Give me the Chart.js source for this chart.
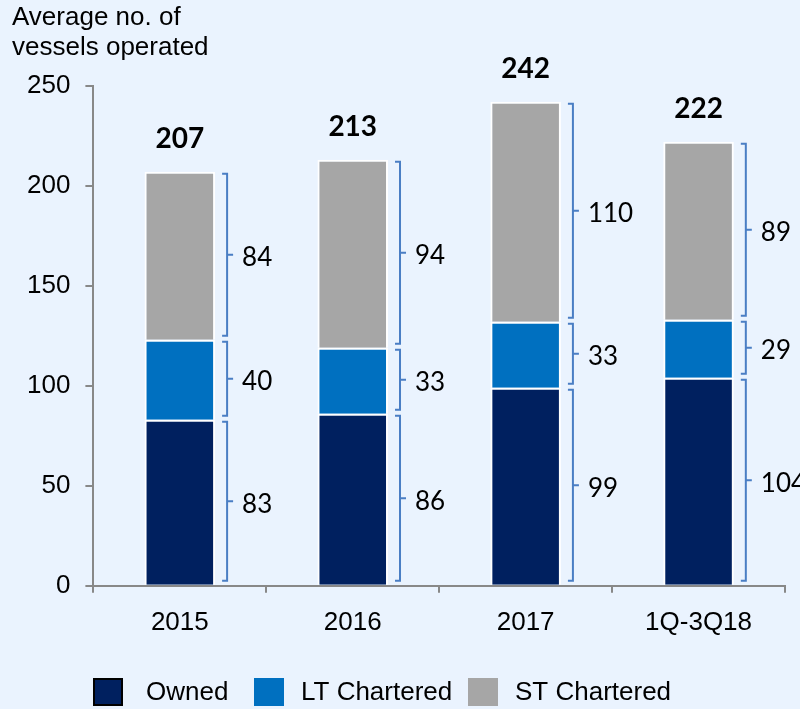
<!DOCTYPE html>
<html>
<head>
<meta charset="utf-8">
<script src="https://cdn.jsdelivr.net/npm/chart.js@4.4.1/dist/chart.umd.min.js"></script>
<style>
  html, body { margin: 0; padding: 0; background: #EAF3FE; }
  #wrap { width: 800px; height: 709px; position: relative; }
</style>
</head>
<body>
<div id="wrap"><canvas id="c" width="800" height="709"></canvas></div>
<script>
const categories = ['2015', '2016', '2017', '1Q-3Q18'];
const owned = [83, 86, 99, 104];
const ltChartered = [40, 33, 33, 29];
const stChartered = [84, 94, 110, 89];
const totals = [207, 213, 242, 222];
const yTicks = [0, 50, 100, 150, 200, 250];

const FONT = '"Liberation Sans", Arial, sans-serif';
const bracketColor = '#4A7EC4';

const bgPlugin = {
  id: 'bg',
  beforeDraw(chart) {
    const ctx = chart.ctx;
    ctx.save();
    ctx.fillStyle = '#EAF3FE';
    ctx.fillRect(0, 0, chart.width, chart.height);
    ctx.restore();
  }
};

const bracketPlugin = {
  id: 'brackets',
  afterDatasetsDraw(chart) {
    const ctx = chart.ctx;
    ctx.save();
    chart.data.datasets.forEach((ds, di) => {
      const meta = chart.getDatasetMeta(di);
      meta.data.forEach((el, i) => {
        const right = el.x + el.width / 2;
        const bx = right + 12;
        const top = Math.min(el.y, el.base) + 2;
        const bot = Math.max(el.y, el.base) - 4;
        const mid = (top + bot) / 2;
        ctx.strokeStyle = bracketColor;
        ctx.lineWidth = 2;
        ctx.beginPath();
        ctx.moveTo(bx - 5, top);
        ctx.lineTo(bx, top);
        ctx.lineTo(bx, bot);
        ctx.lineTo(bx - 5, bot);
        ctx.moveTo(bx, mid);
        ctx.lineTo(bx + 6, mid);
        ctx.stroke();
        ctx.fillStyle = '#000';
        ctx.font = '26px Lato, "Open Sans", sans-serif';
        ctx.textAlign = 'left';
        ctx.textBaseline = 'middle';
        ctx.fillText(String(ds.data[i]), bx + 15, mid + 3);
      });
    });
    const meta0 = chart.getDatasetMeta(0);
    const yScale = chart.scales.y;
    ctx.font = 'bold 28px Lato, "Open Sans", sans-serif';
    ctx.textAlign = 'center';
    ctx.textBaseline = 'alphabetic';
    ctx.fillStyle = '#000';
    totals.forEach((t, i) => {
      const x = meta0.data[i].x;
      const y = yScale.getPixelForValue(t);
      ctx.fillText(String(t), x, y - 24);
    });
    ctx.restore();
  },
  afterDraw(chart) {
    const ctx = chart.ctx;
    ctx.save();
    const y = 692;
    const boxX = [93, 254, 468];
    const gap = [53, 47, 47];
    ctx.font = '26px ' + FONT;
    ctx.textBaseline = 'middle';
    ctx.textAlign = 'left';
    chart.data.datasets.forEach((ds, i) => {
      const x = boxX[i];
      ctx.fillStyle = ds.backgroundColor;
      ctx.fillRect(x, y - 14, 30, 28);
      if (i === 0) {
        ctx.strokeStyle = '#000';
        ctx.lineWidth = 2;
        ctx.strokeRect(x + 1, y - 13, 28, 26);
      }
      ctx.fillStyle = '#000';
      ctx.fillText(ds.label, x + gap[i], y + 1);
    });
    ctx.restore();
  }
};

new Chart(document.getElementById('c'), {
  type: 'bar',
  data: {
    labels: categories,
    datasets: [
      { label: 'Owned', data: owned, backgroundColor: '#00205F', borderColor: '#FFFFFF', borderWidth: 2 },
      { label: 'LT Chartered', data: ltChartered, backgroundColor: '#0070C0', borderColor: '#FFFFFF', borderWidth: 2 },
      { label: 'ST Chartered', data: stChartered, backgroundColor: '#A6A6A6', borderColor: '#FFFFFF', borderWidth: 2 }
    ]
  },
  options: {
    responsive: false,
    animation: false,
    devicePixelRatio: 1,
    layout: { padding: { left: 12, right: 15, top: 3, bottom: 57 } },
    datasets: { bar: { categoryPercentage: 0.8, barPercentage: 0.51 } },
    plugins: {
      title: {
        display: true,
        text: ['Average no. of', 'vessels operated'],
        align: 'start',
        color: '#000',
        font: { family: FONT, size: 26, weight: 'normal', lineHeight: 1.15 },
        padding: { top: 0, bottom: 23 }
      },
      legend: { display: false },
      tooltip: { enabled: false }
    },
    scales: {
      x: {
        stacked: true,
        offset: true,
        grid: { display: true, drawOnChartArea: false, offset: true, color: '#888888', lineWidth: 2, tickLength: 7 },
        border: { display: true, color: '#888888', width: 2 },
        ticks: { color: '#000', font: { family: FONT, size: 26 }, padding: 14 }
      },
      y: {
        stacked: true,
        min: 0,
        max: 250,
        afterBuildTicks(axis) { axis.ticks = yTicks.map(v => ({ value: v })); },
        grid: { display: true, drawOnChartArea: false, color: '#888888', lineWidth: 2, tickLength: 8 },
        border: { display: true, color: '#888888', width: 2 },
        ticks: { color: '#000', font: { family: FONT, size: 26 }, padding: 15 }
      }
    }
  },
  plugins: [bgPlugin, bracketPlugin]
});
</script>
</body>
</html>
